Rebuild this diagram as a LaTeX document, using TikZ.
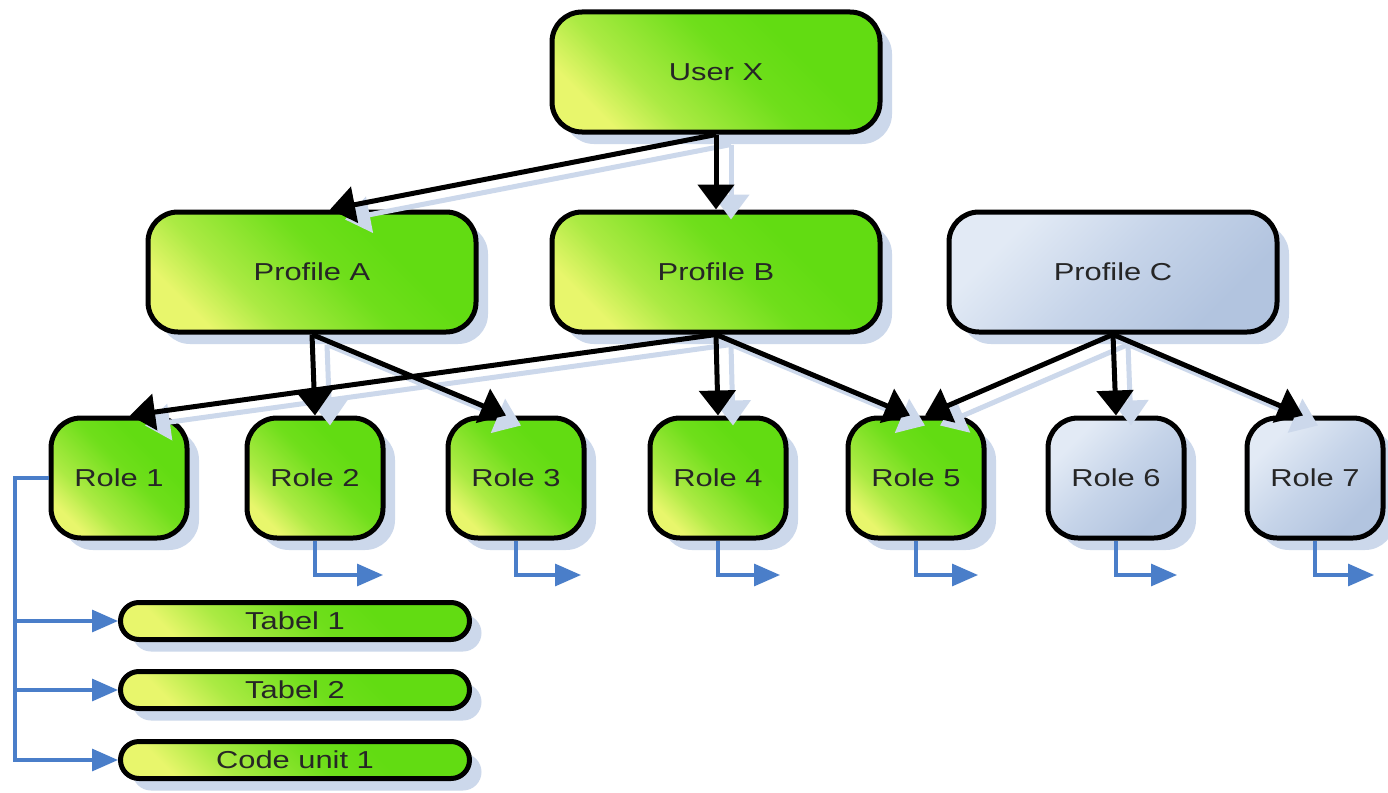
\documentclass[tikz,border=0pt]{standalone}
\usepackage{fontspec}
\newfontfamily\labfont[FakeStretch=1.26]{Liberation Sans}
\usetikzlibrary{arrows.meta,shadows,calc}
\definecolor{gY}{HTML}{E8F66C}
\definecolor{gG}{HTML}{62DC12}
\definecolor{bL}{HTML}{E2EAF5}
\definecolor{bM}{HTML}{C6D4E9}
\definecolor{bD}{HTML}{B2C4DF}
\definecolor{shadowc}{HTML}{CCD8EB}
\definecolor{bluec}{HTML}{4A7EC9}
\definecolor{txt}{HTML}{262626}
\pgfdeclareverticalshading{greenfade}{100bp}{color(0bp)=(gY); color(25bp)=(gY); color(36bp)=(gY!55!gG); color(54bp)=(gG!90!gY); color(66bp)=(gG); color(100bp)=(gG)}
\pgfdeclareverticalshading{bluefade}{100bp}{color(0bp)=(bD); color(28bp)=(bD); color(50bp)=(bM); color(72bp)=(bL); color(100bp)=(bL)}
\tikzset{
  basebox/.style={draw=black, line width=5pt, text=txt,
    font=\labfont\fontsize{24.5}{28}\selectfont,
    drop shadow={shadow xshift=12pt, shadow yshift=-12pt, fill=shadowc, opacity=1}},
  greenbox/.style={basebox, shade, shading=greenfade, shading angle=-45},
  bluebox/.style={basebox, shade, shading=bluefade, shading angle=45},
  bigbox/.style={minimum width=328pt, minimum height=120pt, rounded corners=30pt},
  rolebox/.style={minimum width=136pt, minimum height=120pt, rounded corners=30pt},
  pillbox/.style={minimum width=349pt, minimum height=37pt, rounded corners=18.5pt, inner sep=0pt},
  bk/.style={draw=black, line width=5pt, -{Triangle[length=25pt,width=36pt]}},
  bl/.style={draw=bluec, line width=3.2pt, -{Triangle[length=26pt,width=22pt]}},
}
\newcommand{\blackconns}{%
  \draw[bk] (ux.south) -- ([xshift=18pt]pa.north);
  \draw[bk] (ux.south) -- (pb.north);
  \draw[bk] (pa.south) -- (r2.north);
  \draw[bk] (pa.south) -- ([xshift=-10pt]r3.north);
  \draw[bk] (pb.south) -- ([xshift=11pt]r1.north);
  \draw[bk] (pb.south) -- (r4.north);
  \draw[bk] (pb.south) -- ([xshift=-6pt]r5.north);
  \draw[bk] (pc.south) -- ([xshift=9pt]r5.north);
  \draw[bk] (pc.south) -- (r6.north);
  \draw[bk] (pc.south) -- ([xshift=-12pt]r7.north);
}
\begin{document}
\begin{tikzpicture}[x=1pt,y=-1pt]
\useasboundingbox[fill=white] (0,0) rectangle (1388,792);
% top level
\node[greenbox,bigbox] (ux) at (716,72) {User X};
% profiles
\node[greenbox,bigbox] (pa) at (312,272) {Profile A};
\node[greenbox,bigbox] (pb) at (716,272) {Profile B};
\node[bluebox,bigbox] (pc) at (1113,272) {Profile C};
% roles
\node[greenbox,rolebox] (r1) at (119,478) {Role 1};
\node[greenbox,rolebox] (r2) at (315,478) {Role 2};
\node[greenbox,rolebox] (r3) at (516,478) {Role 3};
\node[greenbox,rolebox] (r4) at (718,478) {Role 4};
\node[greenbox,rolebox] (r5) at (916,478) {Role 5};
\node[bluebox,rolebox] (r6) at (1116,478) {Role 6};
\node[bluebox,rolebox] (r7) at (1315,478) {Role 7};
% objects
\node[greenbox,pillbox] (t1) at (295,621) {Tabel 1};
\node[greenbox,pillbox] (t2) at (295,690) {Tabel 2};
\node[greenbox,pillbox] (cu) at (295,760) {Code unit 1};
% connector shadows
\begin{scope}[transform canvas={shift={(15pt,-10pt)}}, bk/.append style={draw=shadowc}]
  \blackconns
\end{scope}
% connectors
\blackconns
% blue connectors
\coordinate (bx) at (15,478);
\draw[bl] (r1.west) -- (bx) |- (t1.west);
\draw[bl] (bx) |- (t2.west);
\draw[bl] (bx) |- (cu.west);
\coordinate (e2) at (383,575);
\coordinate (e3) at (581,575);
\coordinate (e4) at (780,575);
\coordinate (e5) at (978,575);
\coordinate (e6) at (1177,575);
\coordinate (e7) at (1374,575);
\draw[bl] (r2.south) |- (e2);
\draw[bl] (r3.south) |- (e3);
\draw[bl] (r4.south) |- (e4);
\draw[bl] (r5.south) |- (e5);
\draw[bl] (r6.south) |- (e6);
\draw[bl] (r7.south) |- (e7);
\end{tikzpicture}
\end{document}
